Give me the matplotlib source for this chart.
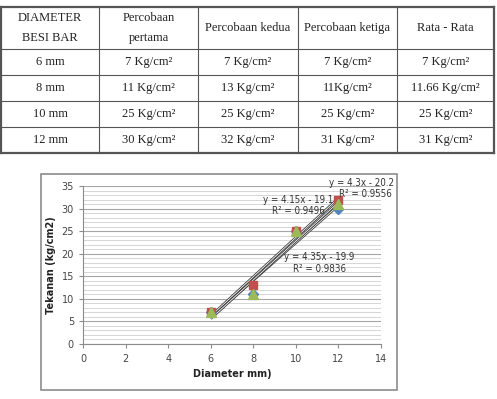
import numpy as np
import matplotlib
matplotlib.use("Agg")
import matplotlib.pyplot as plt
from matplotlib.patches import Rectangle

# table data
headers = ["DIAMETER\nBESI BAR", "Percobaan\npertama", "Percobaan kedua", "Percobaan ketiga", "Rata - Rata"]
rows = [
    ["6 mm", "7 Kg/cm²", "7 Kg/cm²", "7 Kg/cm²", "7 Kg/cm²"],
    ["8 mm", "11 Kg/cm²", "13 Kg/cm²", "11Kg/cm²", "11.66 Kg/cm²"],
    ["10 mm", "25 Kg/cm²", "25 Kg/cm²", "25 Kg/cm²", "25 Kg/cm²"],
    ["12 mm", "30 Kg/cm²", "32 Kg/cm²", "31 Kg/cm²", "31 Kg/cm²"],
]

# chart data
diameter = [6, 8, 10, 12]
pertama = [7, 11, 25, 30]
kedua = [7, 13, 25, 32]
ketiga = [7, 11, 25, 31]

W, H = 497, 399
fig = plt.figure(figsize=(W / 100, H / 100), dpi=100)

# ---- table ----
tax = fig.add_axes([0, 0, 1, 1])
tax.set_xlim(0, W)
tax.set_ylim(H, 0)
tax.axis("off")
col_x = [1, 99, 198, 298, 397, 494]
row_y = [7, 49, 75, 101, 127, 153]
lc = "#555555"
for i, x in enumerate(col_x):
    lw = 1.6 if i in (0, len(col_x) - 1) else 0.8
    tax.plot([x, x], [row_y[0], row_y[-1]], color=lc, lw=lw)
for i, y in enumerate(row_y):
    lw = 1.6 if i in (0, len(row_y) - 1) else 0.8
    tax.plot([col_x[0], col_x[-1]], [y, y], color=lc, lw=lw)

tfont = dict(family="Liberation Serif", fontsize=9, color="#222222")
for j, h in enumerate(headers):
    cx = (col_x[j] + col_x[j + 1]) / 2
    cy = (row_y[0] + row_y[1]) / 2
    tax.text(cx, cy, h, ha="center", va="center", linespacing=1.8, **tfont)
for i, r in enumerate(rows):
    cy = (row_y[i + 1] + row_y[i + 2]) / 2
    for j, v in enumerate(r):
        cx = (col_x[j] + col_x[j + 1]) / 2
        tax.text(cx, cy, v, ha="center", va="center", **tfont)

# chart frame
tax.add_patch(Rectangle((41, 174), 356, 216, fill=False, ec="#8c8c8c", lw=1.2))

# ---- chart ----
ax = fig.add_axes([83 / W, 1 - 344 / H, (381 - 83) / W, (344 - 186) / H])
ax.set_xlim(0, 14)
ax.set_ylim(0, 35)
ax.set_xticks(np.arange(0, 15, 2))
ax.set_yticks(np.arange(0, 36, 5))
ax.set_yticks(np.arange(0, 36, 1), minor=True)
ax.grid(axis="y", which="major", color="#a6a6a6", lw=0.8)
ax.grid(axis="y", which="minor", color="#d0d0d0", lw=0.6)
ax.set_axisbelow(True)
for s in ["top", "right"]:
    ax.spines[s].set_visible(False)
for s in ["left", "bottom"]:
    ax.spines[s].set_color("#8c8c8c")
ax.tick_params(which="both", color="#8c8c8c", labelsize=7, labelcolor="#444444", length=3)
ax.tick_params(which="minor", length=0)
ax.tick_params(axis="x", pad=4)

ax.plot(diameter, pertama, "D", color="#4F81BD", ms=5, zorder=3)
ax.plot(diameter, kedua, "s", color="#C0504D", ms=6, zorder=3)
ax.plot(diameter, ketiga, "^", color="#9BBB59", ms=6.5, zorder=4)

# linear trendlines, drawn as double lines
xs = np.array([6, 12])
for ys in (pertama, kedua, ketiga):
    m, b = np.polyfit(diameter, ys, 1)
    ax.plot(xs, m * xs + b, color="#3a3a3a", lw=1.8, zorder=2, solid_capstyle="butt")
    ax.plot(xs, m * xs + b, color="white", lw=0.6, zorder=2, solid_capstyle="butt")

afont = dict(family="DejaVu Sans", fontstretch="condensed", fontsize=7,
             color="#333333", ha="center", va="center")
ax.text(13.1, 35.7, "y = 4.3x - 20.2", clip_on=False, **afont)
ax.text(13.25, 33.2, "R² = 0.9556", **afont)
ax.text(10.1, 31.9, "y = 4.15x - 19.1", **afont)
ax.text(10.1, 29.5, "R² = 0.9496", **afont)
ax.text(11.08, 19.3, "y = 4.35x - 19.9", **afont)
ax.text(11.1, 16.6, "R² = 0.9836", **afont)

ax.set_xlabel("Diameter mm)", fontsize=7, fontweight="bold", color="#222222", labelpad=4)
ax.set_ylabel("Tekanan (kg/cm2)", fontsize=7, fontweight="bold", color="#222222", labelpad=4)

fig.savefig("out.png", dpi=100)
